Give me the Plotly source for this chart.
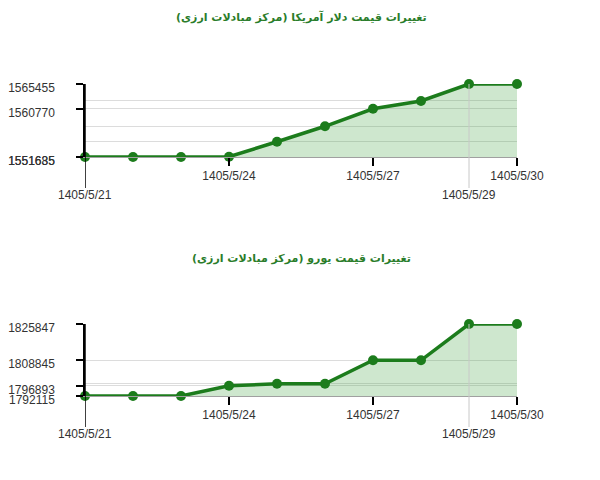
import plotly.graph_objects as go
from plotly.subplots import make_subplots

dates = ["1405/5/21", "1405/5/22", "1405/5/23", "1405/5/24", "1405/5/25",
         "1405/5/26", "1405/5/27", "1405/5/28", "1405/5/29", "1405/5/30"]
usd = [1551635, 1551635, 1551635, 1551685, 1554520,
       1557450, 1560770, 1562250, 1565455, 1565455]
eur = [1792115, 1792115, 1792115, 1796893, 1797850,
       1797850, 1808845, 1808845, 1825847, 1825847]
usd_ticks = [1551635, 1551685, 1560770, 1565455]
eur_ticks = [1792115, 1796893, 1808845, 1825847]
upper_dates = ["1405/5/24", "1405/5/27", "1405/5/30"]
lower_dates = ["1405/5/21", "1405/5/29"]
titles = ["تغییرات قیمت دلار آمریکا (مرکز مبادلات ارزی)",
          "تغییرات قیمت یورو (مرکز مبادلات ارزی)"]

# page body has an 8px margin, so keep the whole page inside 600x480
W, H = 584, 464
OFF = 8
line_green = "#1c7c1c"
fill_green = "rgba(60,160,60,0.25)"
font = "Liberation Sans, Arial, sans-serif"

# screen pixel boxes of the two plot areas (top, bottom)
boxes = [(84, 157), (324, 396)]
title_y = [17, 258]


def py(px):
    return 1 - (px - OFF) / H


fig = make_subplots(rows=2, cols=1)

for i, (vals, ticks) in enumerate([(usd, usd_ticks), (eur, eur_ticks)]):
    row = i + 1
    top, bot = boxes[i]
    xref = "x" if row == 1 else "x" + str(row)
    fig.add_trace(go.Scatter(
        x=dates, y=vals, mode="lines+markers", fill="tozeroy",
        fillcolor=fill_green, line=dict(color=line_green, width=3.5),
        marker=dict(size=10, color=line_green), cliponaxis=False,
        hoverinfo="x+y", showlegend=False), row=row, col=1)

    grid_vals = sorted(set(vals))
    fig.update_yaxes(
        domain=[py(bot), py(top)],
        range=[min(vals), max(vals)],
        tickvals=ticks, ticktext=[str(t) for t in ticks],
        ticks="outside", ticklen=7, tickcolor="black", tickwidth=1.5,
        showline=True, linecolor="black", linewidth=1.5,
        showgrid=True, gridcolor="#dcdcdc", zeroline=False,
        minor=dict(tickvals=grid_vals, showgrid=True, gridcolor="#dcdcdc", ticklen=0),
        ticklabelstandoff=19, ticklabelshift=4, automargin=False,
        tickfont=dict(size=12, color="#333", family=font),
        row=row, col=1)
    fig.update_xaxes(
        type="category", range=[0, len(dates) - 1],
        tickvals=upper_dates, ticktext=upper_dates,
        ticks="outside", ticklen=8, tickcolor="black", tickwidth=1.5,
        showline=True, linecolor="#a0a0a0", linewidth=1,
        showgrid=False, zeroline=False, automargin=False,
        tickfont=dict(size=12, color="#333", family=font),
        row=row, col=1)

    # staggered labels and the long lines under them
    fig.add_shape(type="line", xref=xref, yref="paper",
                  x0=dates[0], x1=dates[0], y0=py(bot + 31), y1=py(top),
                  line=dict(color="black", width=1.5))
    fig.add_shape(type="line", xref=xref, yref="paper",
                  x0=lower_dates[1], x1=lower_dates[1], y0=py(bot + 31), y1=py(top),
                  line=dict(color="#c8c8c8", width=1))
    for d in lower_dates:
        fig.add_annotation(x=d, xref=xref, yref="paper",
                           y=py(bot + 38), yanchor="middle", text=d, showarrow=False,
                           font=dict(size=12, color="#333", family=font))

    fig.add_annotation(x=0.5, xref="paper", yref="paper",
                       y=py(title_y[i]), yanchor="middle",
                       text="<b>" + titles[i] + "</b>", showarrow=False,
                       font=dict(size=11, color="#2a7d2a", family="Tahoma, DejaVu Sans, sans-serif"))

fig.update_layout(width=W, height=H, plot_bgcolor="white", paper_bgcolor="white",
                  margin=dict(l=85 - OFF, r=W - (517 - OFF), t=0, b=0))

fig.write_html("out.html")
